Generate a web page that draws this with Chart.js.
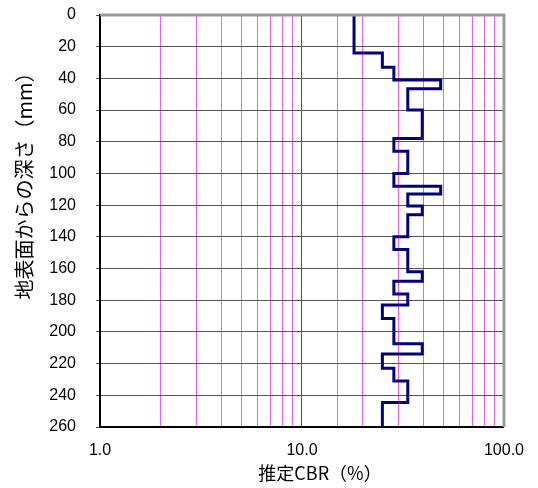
<!DOCTYPE html>
<html>
<head>
<meta charset="utf-8">
<script src="https://cdn.jsdelivr.net/npm/chart.js@4"></script>
<style>
  html, body { margin: 0; padding: 0; background: #fff; }
  #wrap { width: 538px; height: 488px; }
</style>
</head>
<body>
<div id="wrap"><canvas id="grafico" width="538" height="488"></canvas></div>
<script>
// profundidades (mm) donde cambia el valor, y CBR de cada tramo
const depthBreaks = [0, 24, 33, 41, 46.5, 60, 78, 86, 100, 108, 113, 120.5, 126, 140, 148, 162, 168, 176, 183, 191.5, 207.5, 214, 223, 231, 244.5, 260];
const cbrValues = [18.1, 25, 28.5, 48.6, 33.4, 39.4, 28.5, 33.4, 28.5, 48.6, 33.4, 39.4, 33.4, 28.5, 33.4, 39.4, 28.5, 33.4, 25, 28.5, 39.4, 25, 28.5, 33.4, 25];
const xTickLabels = [1, 10, 100];
const yTicks = [0, 20, 40, 60, 80, 100, 120, 140, 160, 180, 200, 220, 240, 260];

// cada tramo: valor constante entre dos profundidades
let puntos = [];
cbrValues.forEach((v, i) => {
    puntos.push({ x: v, y: depthBreaks[i] });
    puntos.push({ x: v, y: depthBreaks[i + 1] });
});

const bordeGris = {
    id: "bordeGris",
    afterDatasetsDraw(chart) {
        const { ctx, chartArea: a } = chart;
        ctx.save();
        ctx.strokeStyle = "#9a9a9a";
        ctx.lineWidth = 3;
        ctx.beginPath();
        ctx.moveTo(a.left, a.top);
        ctx.lineTo(a.right, a.top);
        ctx.lineTo(a.right, a.bottom);
        ctx.stroke();
        ctx.restore();
    }
};

const fuente = "'Liberation Sans', Arial, 'Noto Sans CJK JP', sans-serif";
const fuenteJp = "'Noto Sans CJK JP', 'Liberation Sans', sans-serif";

let ctx = document.getElementById("grafico").getContext("2d");
new Chart(ctx, {
    type: "line",
    data: {
        datasets: [{
            data: puntos,
            borderColor: "#000080",
            borderWidth: 3,
            pointRadius: 0,
            tension: 0,
            fill: false
        }]
    },
    options: {
        responsive: false,
        animation: false,
        layout: { padding: { left: 0, right: 33, top: 15, bottom: 0 } },
        plugins: { legend: { display: false }, tooltip: { enabled: false } },
        scales: {
            x: {
                type: "logarithmic",
                min: 1,
                max: 100,
                afterFit: (s) => { s.height = 61; },
                border: { color: "#000", width: 2 },
                grid: {
                    drawTicks: false,
                    color: (c) => {
                        const v = c.tick ? c.tick.value : 0;
                        return xTickLabels.includes(v) ? "#555" : "#ff55ff";
                    },
                    lineWidth: 1
                },
                ticks: {
                    autoSkip: false,
                    maxRotation: 0,
                    padding: 14,
                    color: "#000",
                    font: { family: fuente, size: 16 },
                    callback: (v) => xTickLabels.includes(v) ? v.toFixed(1) : ""
                },
                title: {
                    display: true,
                    text: "　　推定CBR（%）",
                    color: "#000",
                    font: { family: fuenteJp, size: 18 },
                    padding: { top: 0, bottom: 4 }
                }
            },
            y: {
                type: "linear",
                reverse: true,
                min: 0,
                max: 260,
                afterFit: (s) => {
                    s.width = 100;
                    s.paddingTop = 0;
                    s.paddingBottom = 0;
                },
                border: { color: "#000", width: 2 },
                grid: { color: "#555", lineWidth: 1, tickLength: 4 },
                afterBuildTicks: (s) => { s.ticks = yTicks.map(v => ({ value: v })); },
                ticks: {
                    padding: 20,
                    color: "#000",
                    font: { family: fuente, size: 16 }
                },
                title: {
                    display: true,
                    text: "　　　　地表面からの深さ（mm）",
                    color: "#000",
                    font: { family: fuenteJp, size: 20 },
                    padding: { top: 12, bottom: 0 }
                }
            }
        }
    },
    plugins: [bordeGris]
});
</script>
</body>
</html>
